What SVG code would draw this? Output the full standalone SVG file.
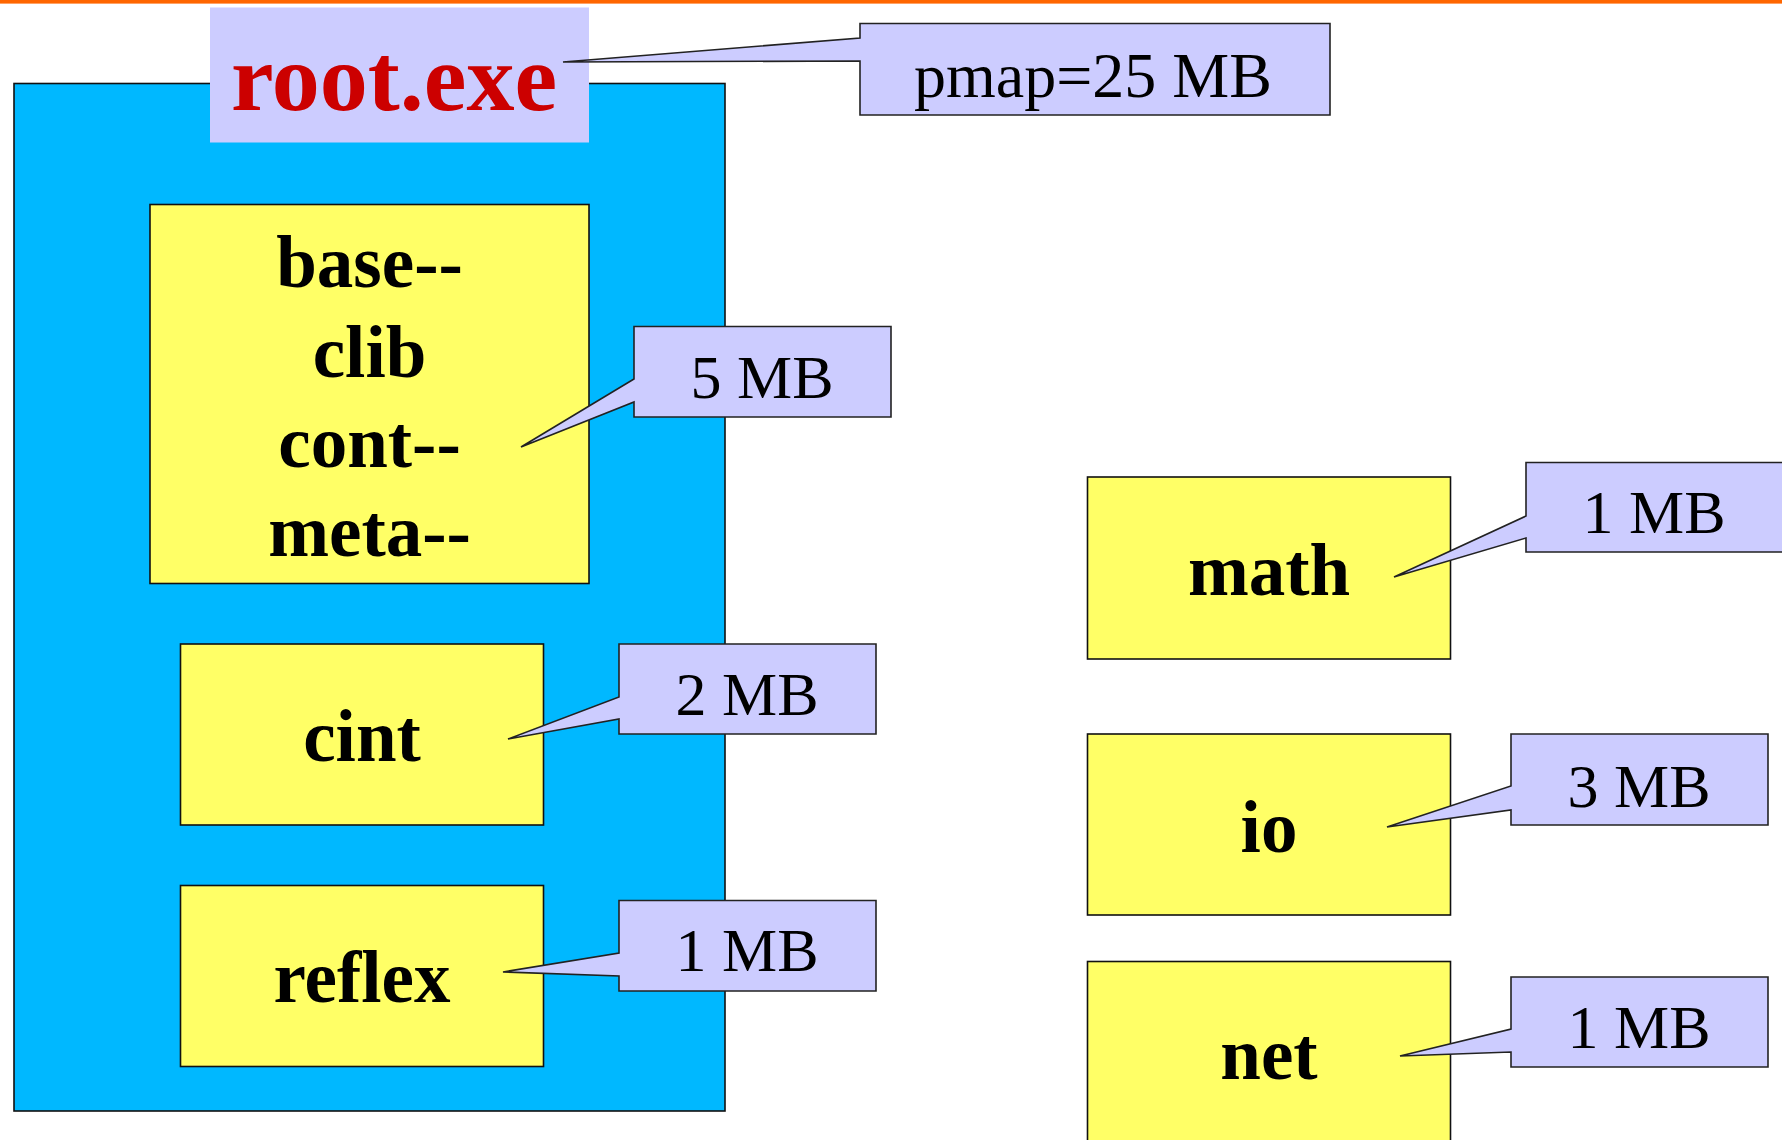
<svg xmlns="http://www.w3.org/2000/svg" width="1782" height="1140" viewBox="0 0 1782 1140">
<style>
.lib{fill:#FFFF66;stroke:#111;stroke-width:1.6}
.call{fill:#CCCCFF;stroke:#222;stroke-width:1.6;stroke-linejoin:miter}
.bt{font-family:"Liberation Serif","Times New Roman",serif;font-weight:bold;font-size:73px;fill:#000;text-anchor:middle}
.ct{font-family:"Liberation Serif","Times New Roman",serif;font-size:62px;fill:#000;text-anchor:middle}
</style>
<rect x="0" y="0" width="1782" height="1140" fill="#FFFFFF"/>
<rect x="0" y="0" width="1782" height="3.6" fill="#FF6600"/>
<g id="root">
<rect x="14" y="83.5" width="711" height="1027.5" fill="#00B8FF" stroke="#111" stroke-width="1.6"/>
<rect x="210" y="7.5" width="379" height="135" fill="#CCCCFF"/>
<text x="394" y="110" font-family="'Liberation Serif','Times New Roman',serif" font-weight="bold" font-size="96" fill="#CC0000" text-anchor="middle">root.exe</text>
</g>
<g id="base">
<rect class="lib" x="150" y="204.5" width="439" height="379"/>
<text class="bt" x="369.5" y="287">base--</text>
<text class="bt" x="369.5" y="377">clib</text>
<text class="bt" x="369.5" y="467">cont--</text>
<text class="bt" x="369.5" y="556">meta--</text>
</g>
<g id="cint">
<rect class="lib" x="180.5" y="644" width="363" height="181"/>
<text class="bt" x="362" y="761">cint</text>
</g>
<g id="reflex">
<rect class="lib" x="180.5" y="885.5" width="363" height="181"/>
<text class="bt" x="362" y="1002">reflex</text>
</g>
<g id="math">
<rect class="lib" x="1087.5" y="477" width="363" height="182"/>
<text class="bt" x="1269" y="595">math</text>
</g>
<g id="io">
<rect class="lib" x="1087.5" y="734" width="363" height="181"/>
<text class="bt" x="1269" y="852">io</text>
</g>
<g id="net">
<rect class="lib" x="1087.5" y="961.5" width="363" height="190"/>
<text class="bt" x="1269" y="1079">net</text>
</g>
<g id="connectors">
<path class="call" d="M563,62 L860,38 V23.5 H1330 V115 H860 V61 Z"/>
<path class="call" d="M521,447 L634,379 V326.5 H891 V417 H634 V402 Z"/>
<path class="call" d="M508,739 L619,697 V644 H876 V734 H619 V719 Z"/>
<path class="call" d="M503,972 L619,953 V900.5 H876 V991 H619 V976 Z"/>
<path class="call" d="M1394,577 L1526,516 V462.5 H1784 V552 H1526 V538 Z"/>
<path class="call" d="M1387,827 L1511,786 V734 H1768 V825 H1511 V810 Z"/>
<path class="call" d="M1400,1056 L1511,1029 V977 H1768 V1067 H1511 V1052 Z"/>
</g>
<g id="labels">
<text class="ct" x="1093" y="97" style="font-size:64px">pmap=25 MB</text>
<text class="ct" x="762" y="398">5 MB</text>
<text class="ct" x="747" y="715">2 MB</text>
<text class="ct" x="747" y="971">1 MB</text>
<text class="ct" x="1654" y="533">1 MB</text>
<text class="ct" x="1639" y="807">3 MB</text>
<text class="ct" x="1639" y="1048">1 MB</text>
</g>
</svg>
